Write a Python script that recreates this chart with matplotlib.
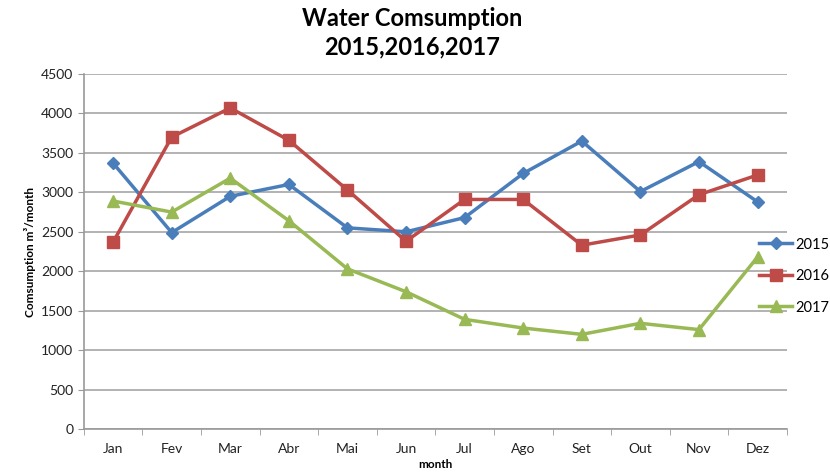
import matplotlib
matplotlib.use("Agg")
import matplotlib.pyplot as plt
import numpy as np

plt.rcParams["font.family"] = ["Lato", "DejaVu Sans"]

months = ["Jan", "Fev", "Mar", "Abr", "Mai", "Jun", "Jul", "Ago", "Set", "Out", "Nov", "Dez"]
y2015 = [3370, 2490, 2950, 3100, 2550, 2500, 2680, 3240, 3650, 3010, 3390, 2880]
y2016 = [2370, 3700, 4070, 3660, 3030, 2380, 2910, 2910, 2330, 2460, 2970, 3220]
y2017 = [2890, 2750, 3180, 2640, 2030, 1740, 1390, 1280, 1200, 1340, 1260, 2180]

fig = plt.figure(figsize=(8.3, 4.76), dpi=100)
ax = fig.add_axes([0.101, 0.0987, 0.847, 0.7458])

x = np.arange(len(months))
ax.plot(x, y2015, color="#4A7EBB", lw=2.5, marker="D", ms=6, label="2015")
ax.plot(x, y2016, color="#BE4B48", lw=2.5, marker="s", ms=8, label="2016")
ax.plot(x, y2017, color="#98B954", lw=2.5, marker="^", ms=8, label="2017")

ax.set_xlim(-0.5, 11.5)
ax.set_ylim(0, 4500)
ax.set_yticks(np.arange(0, 4501, 500))
ax.set_xticks(x)
ax.set_xticklabels(months, fontsize=10, color="#222222")
ax.set_xticks(np.arange(-0.5, 12, 1), minor=True)
ax.tick_params(axis="x", which="major", length=0, pad=10)
ax.tick_params(axis="x", which="minor", length=4, color="#999999")
ax.tick_params(axis="y", length=4, color="#999999", labelsize=10, labelcolor="#222222")
ax.grid(axis="y", color="#a6a6a6", lw=1.2)
ax.set_axisbelow(True)
for s in ["top", "right"]:
    ax.spines[s].set_visible(False)
for s in ["left", "bottom"]:
    ax.spines[s].set_color("#999999")
    ax.spines[s].set_linewidth(1.2)

ax.set_xlabel("month", fontsize=8.5, fontweight="bold", labelpad=3)
ax.set_ylabel("Comsumption m³/month", fontsize=8.5, fontweight="bold", labelpad=4)
fig.suptitle("Water Comsumption\n2015,2016,2017", fontsize=17, fontweight="bold",
             x=0.497, y=0.985, linespacing=1.3)

fig.legend(loc="center left", bbox_to_anchor=(0.908, 0.42), frameon=False,
           fontsize=10.5, handlelength=2.2, handletextpad=0.25, labelspacing=1.2,
           borderaxespad=0)

fig.savefig("out.png", dpi=100)
